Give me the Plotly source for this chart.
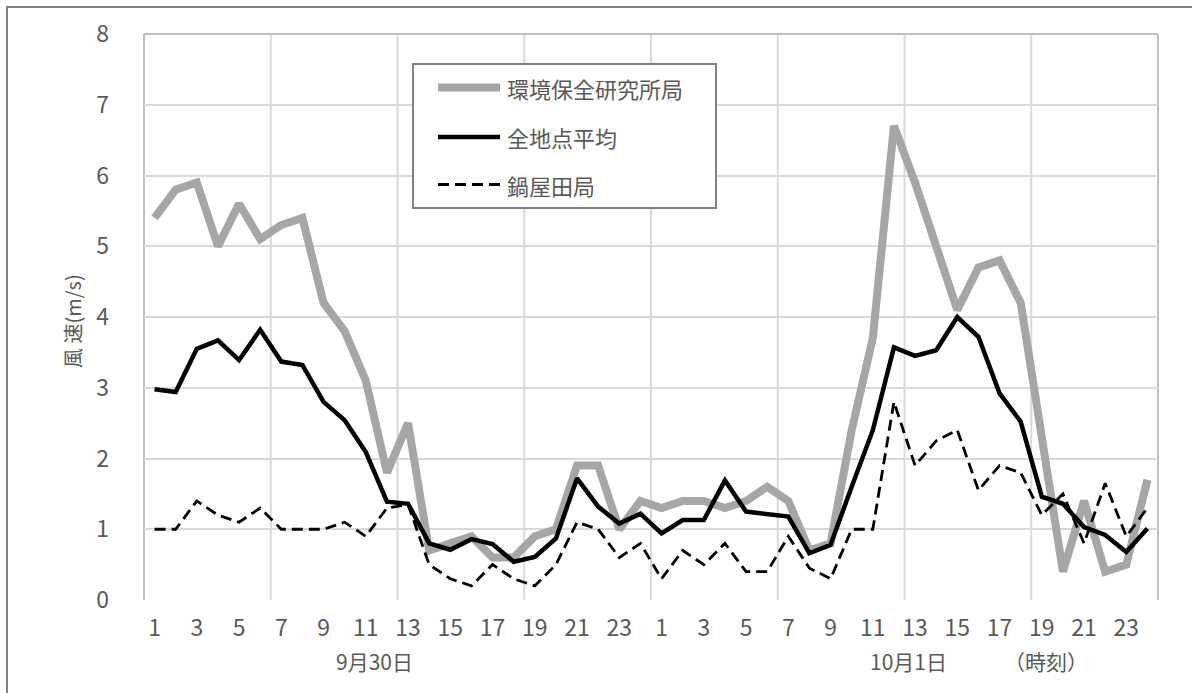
import plotly.graph_objects as go

# Hourly wind speed (m/s), 9/30 01h .. 10/1 24h
hours = list(range(1, 25)) * 2
series_names = ["環境保全研究所局", "全地点平均", "鍋屋田局"]

kankyo = [5.4, 5.8, 5.9, 5.0, 5.6, 5.1, 5.3, 5.4, 4.2, 3.8, 3.1, 1.8,
          2.5, 0.7, 0.8, 0.9, 0.6, 0.6, 0.9, 1.0, 1.9, 1.9, 1.0, 1.4,
          1.3, 1.4, 1.4, 1.3, 1.4, 1.6, 1.4, 0.7, 0.8, 2.4, 3.7, 6.7,
          5.9, 5.0, 4.1, 4.7, 4.8, 4.2, 2.3, 0.4, 1.4, 0.4, 0.5, 1.7]
zenchiten = [2.98, 2.94, 3.55, 3.67, 3.39, 3.82, 3.37, 3.32, 2.80, 2.54, 2.09, 1.39,
             1.36, 0.80, 0.71, 0.86, 0.79, 0.54, 0.61, 0.87, 1.72, 1.32, 1.08, 1.22,
             0.94, 1.13, 1.13, 1.69, 1.25, 1.22, 1.18, 0.66, 0.78, 1.60, 2.40, 3.57,
             3.45, 3.53, 4.00, 3.72, 2.92, 2.52, 1.46, 1.36, 1.03, 0.92, 0.68, 1.01]
nabeyada = [1.0, 1.0, 1.4, 1.2, 1.1, 1.3, 1.0, 1.0, 1.0, 1.1, 0.9, 1.3,
            1.35, 0.5, 0.3, 0.2, 0.5, 0.3, 0.2, 0.5, 1.1, 1.0, 0.6, 0.8,
            0.3, 0.7, 0.5, 0.8, 0.4, 0.4, 0.9, 0.45, 0.3, 1.0, 1.0, 2.8,
            1.9, 2.25, 2.4, 1.55, 1.9, 1.8, 1.2, 1.5, 0.8, 1.65, 0.9, 1.3]

date_labels = ["9月30日", "10月1日", "（時刻）"]
y_title = "風 速(m/s)"

W, H = 1192, 693
ML, MR, MT, MB = 144, 34, 34, 93
PW, PH = W - ML - MR, H - MT - MB


def px(x):
    return (x - ML) / PW


def py(y):
    return (H - MB - y) / PH


FONT = "Liberation Sans Narrow, Noto Sans CJK JP, sans-serif"
CJK = "Noto Sans CJK JP, sans-serif"
TXT = "#595959"

xs = list(range(1, len(hours) + 1))
styles = [
    dict(color="#a6a6a6", width=8),
    dict(color="#000000", width=4.5),
    dict(color="#000000", width=2.8, dash="11px,6px"),
]

fig = go.Figure()
for name, vals, st in zip(series_names, [kankyo, zenchiten, nabeyada], styles):
    fig.add_trace(go.Scatter(x=xs, y=vals, mode="lines", name=name,
                             line=st, showlegend=False))

shapes = []
# vertical grid every 6 hours
for k in range(1, 8):
    shapes.append(dict(type="line", xref="x", yref="paper", x0=0.5 + 6 * k, x1=0.5 + 6 * k,
                       y0=0, y1=1, line=dict(color="#d9d9d9", width=2), layer="below"))
# plot frame (left, top, right)
for (x0, y0, x1, y1) in [(0, 0, 0, 1), (0, 1, 1, 1), (1, 0, 1, 1)]:
    shapes.append(dict(type="line", xref="paper", yref="paper", x0=x0, y0=y0, x1=x1, y1=y1,
                       line=dict(color="#bfbfbf", width=2), layer="below"))
# outer chart border
shapes.append(dict(type="rect", xref="paper", yref="paper",
                   x0=px(7), x1=px(1230), y0=py(730), y1=py(7),
                   line=dict(color="#7f7f7f", width=2), fillcolor="rgba(0,0,0,0)", layer="above"))
# legend box
shapes.append(dict(type="rect", xref="paper", yref="paper",
                   x0=px(413), x1=px(716), y0=py(208), y1=py(64),
                   line=dict(color="#808080", width=2), fillcolor="white", layer="above"))
annotations = []
row_y = [87.5, 137, 184.5]
for name, st, ry in zip(series_names, styles, row_y):
    shapes.append(dict(type="line", xref="paper", yref="paper",
                       x0=px(438), x1=px(500), y0=py(ry), y1=py(ry),
                       line=st, layer="above"))
    annotations.append(dict(text=name, xref="paper", yref="paper", x=px(505), y=py(ry),
                            xanchor="left", yanchor="middle", showarrow=False,
                            font=dict(family=CJK, size=22, color=TXT)))

for text, cx in zip(date_labels, [374, 908, 1046]):
    annotations.append(dict(text=text, xref="paper", yref="paper", x=px(cx), y=py(661),
                            xanchor="center", yanchor="middle", showarrow=False,
                            font=dict(family=FONT, size=21, color=TXT)))

annotations.append(dict(text=y_title, xref="paper", yref="paper", x=px(72), y=py(321),
                        xanchor="center", yanchor="middle", textangle=-90, showarrow=False,
                        font=dict(family=CJK, size=20, color=TXT)))

fig.update_layout(
    width=W, height=H,
    margin=dict(l=ML, r=MR, t=MT, b=MB),
    paper_bgcolor="white", plot_bgcolor="white",
    showlegend=False,
    shapes=shapes, annotations=annotations,
    xaxis=dict(range=[0.5, len(hours) + 0.5], tickmode="array",
               tickvals=xs[::2], ticktext=[str(h) for h in hours[::2]],
               showgrid=False, zeroline=False, showline=False, ticks="",
               ticklabelstandoff=12,
               tickfont=dict(family=FONT, size=23, color=TXT)),
    yaxis=dict(range=[0, 8], dtick=1, showgrid=True, gridcolor="#d9d9d9", gridwidth=2,
               zeroline=False, showline=False, ticks="", ticklabelstandoff=34,
               tickfont=dict(family=FONT, size=23, color=TXT)),
)

fig.write_html("out.html")
